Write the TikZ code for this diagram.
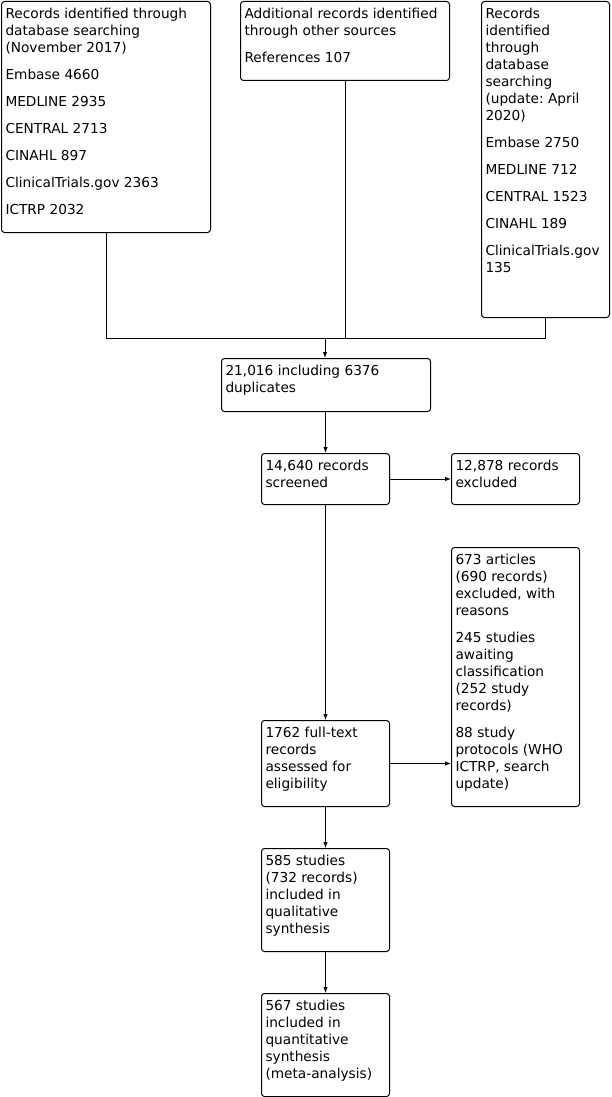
\documentclass[tikz,border=0pt]{standalone}
\usepackage{fontspec}
\setmainfont{DejaVu Sans}
\usetikzlibrary{arrows.meta}
\frenchspacing
\newcommand\bt[3]{\begin{minipage}[t][\dimexpr#2pt-10.2pt\relax][t]{\dimexpr#1pt-8pt\relax}\raggedright\strut#3\end{minipage}}
\tikzset{
  box/.style={draw, line width=1pt, rounded corners=3pt, anchor=north west,
    inner xsep=4pt, inner ysep=5.1pt, font=\fontsize{13.7}{17}\selectfont},
  conn/.style={line width=1pt},
  arr/.style={line width=1pt, -{Latex[length=6pt,width=4.5pt]}}
}
\begin{document}
\begin{tikzpicture}[x=1pt,y=1pt]
\useasboundingbox (0,0) rectangle (612,-1097);
\node[box] (b1) at (1,-1) {\bt{209}{231}{Records identified through\\database searching\\(November 2017)\\[10pt]Embase 4660\\[10pt]MEDLINE 2935\\[10pt]CENTRAL 2713\\[10pt]CINAHL 897\\[10pt]ClinicalTrials.gov 2363\\[10pt]ICTRP 2032}};
\node[box] (b2) at (240,-1) {\bt{209}{79}{Additional records identified\\through other sources\\[10pt]References 107}};
\node[box] (b3) at (481,-1) {\bt{128}{316}{Records\\identified\\through\\database\\searching\\(update: April\\2020)\\[10pt]Embase 2750\\[10pt]MEDLINE 712\\[10pt]CENTRAL 1523\\[10pt]CINAHL 189\\[10pt]ClinicalTrials.gov\\135}};
\node[box] (b4) at (221,-358) {\bt{209}{53}{21,016 including 6376\\duplicates}};
\node[box] (b5) at (261,-453) {\bt{128}{51}{14,640 records\\screened}};
\node[box] (b6) at (451,-453) {\bt{128}{51}{12,878 records\\excluded}};
\node[box] (b7) at (261,-720) {\bt{128}{86}{1762 full-text\\records\\assessed for\\eligibility}};
\node[box] (b8) at (451,-547) {\bt{128}{259}{673 articles\\(690 records)\\excluded, with\\reasons\\[10pt]245 studies\\awaiting\\classification\\(252 study\\records)\\[10pt]88 study\\protocols (WHO\\ICTRP, search\\update)}};
\node[box] (b9) at (261,-848) {\bt{128}{103}{585 studies\\(732 records)\\included in\\qualitative\\synthesis}};
\node[box] (b10) at (261,-993) {\bt{128}{103}{567 studies\\included in\\quantitative\\synthesis\\(meta-analysis)}};
\coordinate (j) at (325,-338);
\draw[conn] (b1.south) |- (j);
\draw[conn] (b2.south) |- (j);
\draw[conn] (b3.south) |- (j);
\draw[arr] (j) -- (j |- b4.north);
\draw[arr] (b5.north |- b4.south) -- (b5.north);
\draw[arr] (b5.east) -- (b6.west);
\draw[arr] (b5.south) -- (b7.north);
\draw[arr] (b7.east) -- (b7.east -| b8.west);
\draw[arr] (b7.south) -- (b9.north);
\draw[arr] (b9.south) -- (b10.north);
\end{tikzpicture}
\end{document}
